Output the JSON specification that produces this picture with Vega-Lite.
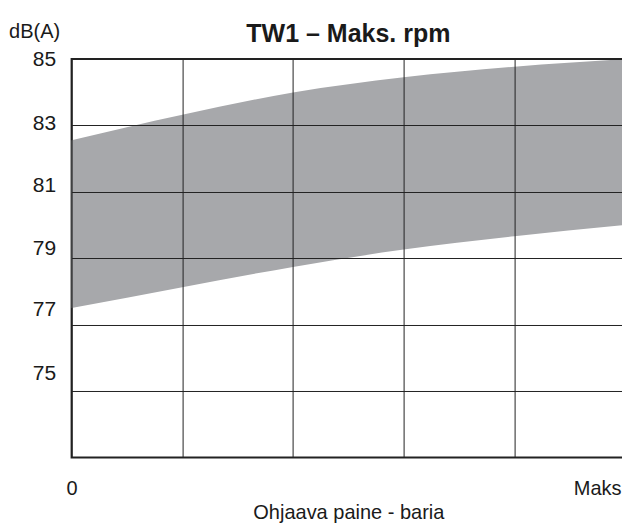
{
  "$schema": "https://vega.github.io/schema/vega-lite/v6.json",
  "autosize": "none",
  "width": 553.5,
  "height": 398.5,
  "padding": {"left": 71.6, "top": 59, "right": 0, "bottom": 68.5},
  "background": "white",
  "title": {
    "text": "TW1 – Maks. rpm",
    "font": "Liberation Sans",
    "fontSize": 25,
    "fontWeight": "bold",
    "color": "#1a1a1a",
    "anchor": "middle",
    "frame": "group",
    "offset": -26
  },
  "data": {
    "values": [
      {"paine": 0, "ala": 77.5, "yla": 82.55},
      {"paine": 1, "ala": 78.13, "yla": 83.32},
      {"paine": 2, "ala": 78.74, "yla": 83.99},
      {"paine": 3, "ala": 79.26, "yla": 84.45},
      {"paine": 4, "ala": 79.66, "yla": 84.77},
      {"paine": 5, "ala": 80.0, "yla": 85.0}
    ]
  },
  "mark": {"type": "area", "color": "#a7a8ab", "interpolate": "monotone"},
  "encoding": {
    "x": {
      "field": "paine",
      "type": "quantitative",
      "scale": {"domain": [0, 5], "nice": false},
      "axis": {
        "values": [0, 1, 2, 3, 4, 5],
        "labelExpr": "datum.value == 0 ? '0' : datum.value == 5 ? 'Maks' : ''",
        "labelAlign": {"condition": {"test": "datum.value == 5", "value": "right"}, "value": "center"},
        "labelOffset": {"condition": {"test": "datum.value == 5", "value": -4}, "value": 0},
        "labelFont": "Liberation Sans",
        "labelFontSize": 20,
        "labelColor": "#1a1a1a",
        "labelPadding": 21,
        "labelBound": false,
        "labelOverlap": false,
        "labelFlush": false,
        "ticks": false,
        "domain": false,
        "grid": true,
        "gridColor": "#222222",
        "gridWidth": 1,
        "gridOpacity": 1,
        "zindex": 1,
        "title": "Ohjaava paine - baria",
        "titleFont": "Liberation Sans",
        "titleFontSize": 20,
        "titleFontWeight": "normal",
        "titleColor": "#1a1a1a",
        "titleBaseline": "alphabetic",
        "titleY": 61
      }
    },
    "y": {
      "field": "ala",
      "type": "quantitative",
      "scale": {"domain": [73, 85], "nice": false, "zero": false},
      "axis": {
        "values": [75, 77, 79, 81, 83, 85],
        "labelFont": "Liberation Sans",
        "labelFontSize": 21,
        "labelColor": "#1a1a1a",
        "labelPadding": 16,
        "labelOffset": {
          "condition": [
            {"test": "datum.value == 83", "value": -2},
            {"test": "datum.value == 81", "value": -6},
            {"test": "datum.value == 79", "value": -10},
            {"test": "datum.value == 77", "value": -15},
            {"test": "datum.value == 75", "value": -18}
          ],
          "value": 0
        },
        "ticks": false,
        "domain": false,
        "grid": true,
        "gridColor": "#222222",
        "gridWidth": 1,
        "gridOpacity": 1,
        "zindex": 1,
        "title": "dB(A)",
        "titleAngle": 0,
        "titleFont": "Liberation Sans",
        "titleFontSize": 20,
        "titleFontWeight": "normal",
        "titleColor": "#1a1a1a",
        "titleAlign": "left",
        "titleBaseline": "alphabetic",
        "titleX": -63,
        "titleY": -22
      }
    },
    "y2": {"field": "yla"}
  },
  "config": {
    "view": {"stroke": "#222222", "strokeWidth": 2}
  }
}
